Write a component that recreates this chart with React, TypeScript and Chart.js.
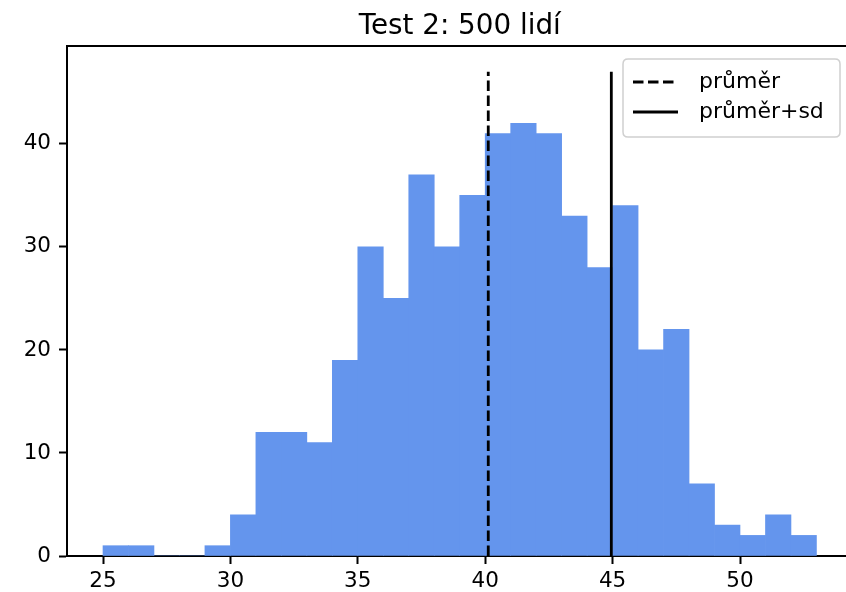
import { useEffect, useRef } from "react";
import { Chart, registerables } from "chart.js";

Chart.register(...registerables);

// Histogram bins (left edges, width 1) and their counts
const binStarts = [25, 26, 27, 28, 29, 30, 31, 32, 33, 34, 35, 36, 37, 38, 39, 40, 41, 42, 43, 44, 45, 46, 47, 48, 49, 50, 51, 52];
const counts = [1, 1, 0, 0, 1, 4, 12, 12, 11, 19, 30, 25, 37, 30, 35, 41, 42, 41, 33, 28, 34, 20, 22, 7, 3, 2, 4, 2];
const binWidth = 1;

// Reference lines
const meanValue = 40.12;
const meanPlusSd = 44.95;
const lineTop = 47;

const xTicks = [25, 30, 35, 40, 45, 50];
const yTicks = [0, 10, 20, 30, 40];

const titleText = "Test 2: 500 lidí";
const legendLabels = ["průměr", "průměr+sd"];

const X_MIN = 23.587;
const X_MAX = 54.16;
const X_FULL_MAX = 54.413;
const Y_MAX = 49.5;

const FONT = "'DejaVu Sans', sans-serif";
const BAR_COLOR = "#6495ED";
const LINE_W = 2.8;
const DASH = [10.5, 4.5];

const decorations = {
  id: "decorations",
  afterDraw(chart: any) {
    const { ctx, chartArea, scales } = chart;
    const x = scales.x;
    ctx.save();

    // top spine
    ctx.strokeStyle = "#000";
    ctx.lineWidth = 2;
    ctx.beginPath();
    ctx.moveTo(chartArea.left - 1, chartArea.top);
    ctx.lineTo(chartArea.right, chartArea.top);
    ctx.stroke();

    // title, centred over the full axes span
    const cx = (x.getPixelForValue(X_MIN) + x.getPixelForValue(X_FULL_MAX)) / 2;
    ctx.fillStyle = "#000";
    ctx.font = `27.8px ${FONT}`;
    ctx.textAlign = "center";
    ctx.textBaseline = "alphabetic";
    ctx.fillText(titleText, cx, 34);

    // legend
    const bx = 623, by = 59, bw = 217, bh = 78, r = 5;
    ctx.beginPath();
    ctx.moveTo(bx + r, by);
    ctx.lineTo(bx + bw - r, by);
    ctx.quadraticCurveTo(bx + bw, by, bx + bw, by + r);
    ctx.lineTo(bx + bw, by + bh - r);
    ctx.quadraticCurveTo(bx + bw, by + bh, bx + bw - r, by + bh);
    ctx.lineTo(bx + r, by + bh);
    ctx.quadraticCurveTo(bx, by + bh, bx, by + bh - r);
    ctx.lineTo(bx, by + r);
    ctx.quadraticCurveTo(bx, by, bx + r, by);
    ctx.closePath();
    ctx.fillStyle = "rgba(255,255,255,0.8)";
    ctx.fill();
    ctx.strokeStyle = "#d0d0d0";
    ctx.lineWidth = 1.5;
    ctx.stroke();

    const rows = [82, 112];
    ctx.strokeStyle = "#000";
    ctx.lineWidth = LINE_W;
    rows.forEach((ry, i) => {
      ctx.setLineDash(i === 0 ? DASH : []);
      ctx.beginPath();
      ctx.moveTo(633, ry);
      ctx.lineTo(678, ry);
      ctx.stroke();
    });
    ctx.setLineDash([]);
    ctx.fillStyle = "#000";
    ctx.font = `22px ${FONT}`;
    ctx.textAlign = "left";
    ctx.textBaseline = "middle";
    rows.forEach((ry, i) => ctx.fillText(legendLabels[i], 699, ry));

    ctx.restore();
  },
};

export default function App() {
  const canvasRef = useRef<HTMLCanvasElement | null>(null);

  useEffect(() => {
    const canvas = canvasRef.current;
    if (!canvas) return;

    const barData = binStarts.map((s, i) => ({ x: s + binWidth / 2, y: counts[i] }));

    const gridCommon = {
      display: true,
      drawOnChartArea: false,
      drawTicks: true,
      offset: false,
      tickLength: 8,
      tickWidth: 2,
      tickColor: "#000",
    };
    const borderCommon = { display: true, color: "#000", width: 2 };
    const tickFont = { family: FONT, size: 21.5 };

    const chart = new Chart(canvas, {
      type: "bar",
      data: {
        datasets: [
          {
            type: "line",
            label: legendLabels[0],
            data: [
              { x: meanValue, y: 0 },
              { x: meanValue, y: lineTop },
            ],
            borderColor: "#000",
            borderWidth: LINE_W,
            borderDash: DASH,
            pointRadius: 0,
            order: 0,
          } as any,
          {
            type: "line",
            label: legendLabels[1],
            data: [
              { x: meanPlusSd, y: 0 },
              { x: meanPlusSd, y: lineTop },
            ],
            borderColor: "#000",
            borderWidth: LINE_W,
            pointRadius: 0,
            order: 0,
          } as any,
          {
            type: "bar",
            label: "počet",
            data: barData,
            backgroundColor: BAR_COLOR,
            borderWidth: 0,
            barPercentage: 1,
            categoryPercentage: 1,
            order: 1,
          } as any,
        ],
      },
      options: {
        animation: false,
        responsive: false,
        maintainAspectRatio: false,
        layout: { padding: { top: 46, left: 0, right: 0, bottom: 0 } },
        plugins: {
          legend: { display: false },
          title: { display: false },
          tooltip: { enabled: false },
        },
        scales: {
          x: {
            type: "linear",
            min: X_MIN,
            max: X_MAX,
            offset: false,
            grid: gridCommon,
            border: borderCommon,
            z: 1,
            ticks: { color: "#000", font: tickFont, padding: 5, maxRotation: 0 },
            afterBuildTicks: (scale: any) => {
              scale.ticks = xTicks.map((v) => ({ value: v }));
            },
            afterFit: (scale: any) => {
              scale.height = 36;
            },
          },
          y: {
            type: "linear",
            min: 0,
            max: Y_MAX,
            grid: gridCommon,
            border: borderCommon,
            z: 1,
            ticks: { color: "#000", font: tickFont, padding: 8 },
            afterBuildTicks: (scale: any) => {
              scale.ticks = yTicks.map((v) => ({ value: v }));
            },
            afterFit: (scale: any) => {
              scale.width = 67;
            },
          },
        } as any,
      },
      plugins: [decorations],
    });

    return () => chart.destroy();
  }, []);

  return (
    <div style={{ position: "fixed", left: 0, top: 0, width: 846, height: 592, background: "#fff" }}>
      <canvas ref={canvasRef} width={846} height={592} />
    </div>
  );
}
